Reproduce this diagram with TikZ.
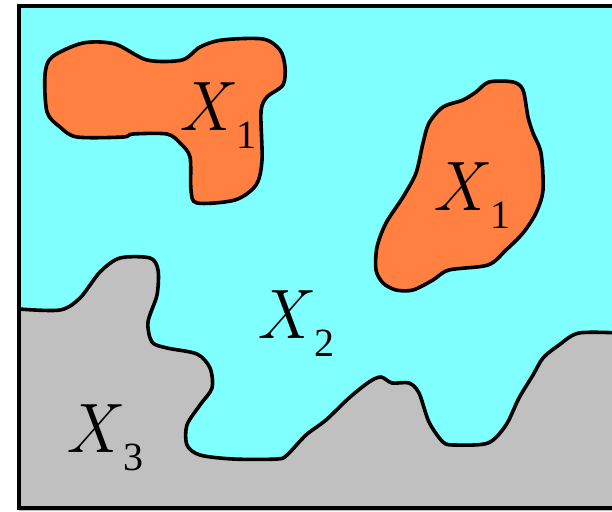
\documentclass[tikz,border=0pt]{standalone}
\usepackage{fontspec}
\newfontfamily\digitfont{Liberation Serif}
\usetikzlibrary{positioning}

\definecolor{seacyan}{HTML}{80FFFF}
\definecolor{blobfill}{HTML}{FF8040}
\definecolor{groundgrey}{HTML}{C0C0C0}

\newcommand{\setname}[1]{\textit{X}\kern2pt\raisebox{-18pt}{\digitfont\fontsize{40}{40}\selectfont\upshape #1}}

\begin{document}
\begin{tikzpicture}[
    x=1pt, y=-1pt,
    region line/.style={
        draw=black,
        line width=3.6pt,
        line join=round
    },
    blob/.style={
        region line,
        fill=blobfill
    },
    set label/.style={
        font=\fontsize{70}{70}\selectfont,
        inner sep=0pt,
        anchor=base west
    },
    frame/.style={
        draw=black,
        line width=4.5pt
    }
]

\clip (0,0) rectangle (612,511);
\fill[white] (0,0) rectangle (612,511);
\fill[seacyan] (19,6) rectangle (650,508);

\fill[groundgrey] plot[smooth] coordinates {
    (19,309) (60,310) (80,298) (100,272) (120,258) (150,258) (158,270)
    (157,295) (148,322) (152,342) (167,348) (197,354) (210,368) (212,388)
    (200,405) (187,425) (187,445) (200,455) (233,459) (277,459) (287,455)
    (306,435) (326,420) (349,398) (369,382) (381,377) (392,383) (409,383)
    (419,393) (429,422) (443,442) (455,445) (488,443) (506,425) (519,398)
    (533,375) (543,358) (559,345) (579,333) (620,333)
} -- (650,333) -- (650,511) -- (19,511) -- cycle;
\draw[region line] plot[smooth] coordinates {
    (19,309) (60,310) (80,298) (100,272) (120,258) (150,258) (158,270)
    (157,295) (148,322) (152,342) (167,348) (197,354) (210,368) (212,388)
    (200,405) (187,425) (187,445) (200,455) (233,459) (277,459) (287,455)
    (306,435) (326,420) (349,398) (369,382) (381,377) (392,383) (409,383)
    (419,393) (429,422) (443,442) (455,445) (488,443) (506,425) (519,398)
    (533,375) (543,358) (559,345) (579,333) (620,333)
};

\draw[blob] plot[smooth cycle] coordinates {
    (45,75) (52,57) (83,43) (115,44) (147,60) (182,60) (200,47) (222,40)
    (263,39) (280,50) (285,67) (283,85) (267,97) (261,112) (262,160)
    (256,185) (235,200) (197,203) (191,190) (190,157) (180,143) (167,134)
    (133,134) (123,137) (77,137) (60,127) (47,112)
};

\draw[blob] plot[smooth cycle] coordinates {
    (489,82) (513,82) (523,90) (528,117) (533,133) (541,153) (543,190)
    (536,213) (523,233) (506,250) (488,265) (449,270) (433,280) (413,290)
    (396,290) (383,283) (376,270) (377,247) (386,223) (403,197) (416,173)
    (423,143) (429,123) (443,107) (463,100) (476,92)
};

\node[set label] (upper) at (178,130) {\setname{1}};
\node[set label] (right) at (432,210) {\setname{1}};
\node[set label] (middle) at (256,338) {\setname{2}};
\node[set label] (ground) at (65,452) {\setname{3}};

\draw[frame] (19,6) rectangle (650,508);

\end{tikzpicture}
\end{document}
